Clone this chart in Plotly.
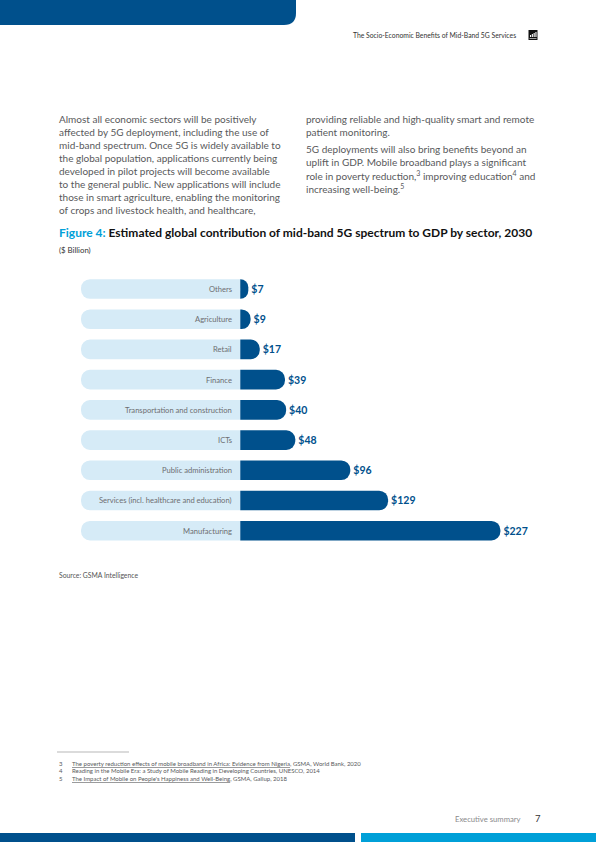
import plotly.graph_objs as go

W, H = 596, 842

# chart data
sectors = [
    "Others",
    "Agriculture",
    "Retail",
    "Finance",
    "Transportation and construction",
    "ICTs",
    "Public administration",
    "Services (incl. healthcare and education)",
    "Manufacturing",
]
values = [7, 9, 17, 39, 40, 48, 96, 129, 227]
value_labels = ["$" + str(v) for v in values]

# page text
header_text = "The Socio-Economic Benefits of Mid-Band 5G Services"
left_lines = [
    "Almost all economic sectors will be positively",
    "affected by 5G deployment, including the use of",
    "mid-band spectrum. Once 5G is widely available to",
    "the global population, applications currently being",
    "developed in pilot projects will become available",
    "to the general public. New applications will include",
    "those in smart agriculture, enabling the monitoring",
    "of crops and livestock health, and healthcare,",
]
right_lines = [
    "providing reliable and high-quality smart and remote",
    "patient monitoring.",
    "5G deployments will also bring benefits beyond an",
    "uplift in GDP. Mobile broadband plays a significant",
    "role in poverty reduction,<sup>3</sup> improving education<sup>4</sup> and",
    "increasing well-being.<sup>5</sup>",
]
footnotes = [
    ("3", "<u>The poverty reduction effects of mobile broadband in Africa: Evidence from Nigeria</u>, GSMA, World Bank, 2020"),
    ("4", "Reading in the Mobile Era: a Study of Mobile Reading in Developing Countries, UNESCO, 2014"),
    ("5", "<u>The Impact of Mobile on People's Happiness and Well-Being</u>, GSMA, Gallup, 2018"),
]

DARK = "#00508c"
TRACK_COL = "#d6ebf7"
CYAN = "#00a0d8"
BODY = "#58595b"
FONT = "Lato, sans-serif"
TRACK = 139


def px(x):
    return x / W


def py(y):
    return 1 - y / H


fig = go.Figure()

# background track bars
fig.add_trace(go.Bar(
    y=sectors,
    x=[-TRACK] * len(sectors),
    orientation="h",
    marker=dict(color=TRACK_COL, cornerradius=10, line=dict(width=0)),
    width=0.65,
    hoverinfo="skip",
    showlegend=False,
))

# value bars
fig.add_trace(go.Bar(
    y=sectors,
    x=values,
    orientation="h",
    marker=dict(color=DARK, cornerradius=10, line=dict(width=0)),
    width=0.65,
    text=value_labels,
    textposition="outside",
    constraintext="none",
    cliponaxis=False,
    textfont=dict(family=FONT, size=10.5, color=DARK, weight="bold"),
    showlegend=False,
))

annotations = []

# category labels inside the tracks
for s in sectors:
    annotations.append(dict(
        x=0, y=s, xref="x", yref="y", text=s, showarrow=False,
        xanchor="right", yanchor="middle", xshift=-6,
        font=dict(family=FONT, size=7.6, color="#6d6e71"),
    ))

# body text
left_y = [119 + i * 13.05 for i in range(len(left_lines))]
right_y = [119, 132, 149, 162.2, 175.4, 188.4]
for t, yy in zip(left_lines, left_y):
    annotations.append(dict(x=px(57), y=py(yy), xref="paper", yref="paper", text=t,
                            showarrow=False, xanchor="left", yanchor="middle",
                            font=dict(family=FONT, size=10, color=BODY)))
for t, yy in zip(right_lines, right_y):
    annotations.append(dict(x=px(303.5), y=py(yy), xref="paper", yref="paper", text=t,
                            showarrow=False, xanchor="left", yanchor="middle",
                            font=dict(family=FONT, size=10, color=BODY)))

# title and subtitle
annotations.append(dict(
    x=px(57), y=py(233), xref="paper", yref="paper", showarrow=False,
    xanchor="left", yanchor="middle",
    text="<span style='color:" + CYAN + "'>Figure 4:</span> Estimated global contribution of mid-band 5G spectrum to GDP by sector, 2030",
    font=dict(family=FONT, size=12, color="#111111", weight="bold"),
))
annotations.append(dict(x=px(57), y=py(250.5), xref="paper", yref="paper", text="($ Billion)",
                        showarrow=False, xanchor="left", yanchor="middle",
                        font=dict(family=FONT, size=7.8, color="#333333")))

# source
annotations.append(dict(x=px(57), y=py(575), xref="paper", yref="paper", text="Source: GSMA Intelligence",
                        showarrow=False, xanchor="left", yanchor="middle",
                        font=dict(family=FONT, size=6.8, color="#555555")))

# header and footer
annotations.append(dict(x=px(518), y=py(35), xref="paper", yref="paper", text=header_text,
                        showarrow=False, xanchor="right", yanchor="middle",
                        font=dict(family=FONT, size=6.8, color="#333333")))
annotations.append(dict(x=px(523), y=py(818.5), xref="paper", yref="paper", text="Executive summary",
                        showarrow=False, xanchor="right", yanchor="middle",
                        font=dict(family=FONT, size=7.7, color="#8a8a8c")))
annotations.append(dict(x=px(533), y=py(818), xref="paper", yref="paper", text="7",
                        showarrow=False, xanchor="left", yanchor="middle",
                        font=dict(family=FONT, size=9.5, color="#333333")))

# footnotes
for i, (num, txt) in enumerate(footnotes):
    yy = 763 + i * 7.8
    annotations.append(dict(x=px(57), y=py(yy), xref="paper", yref="paper", text=num,
                            showarrow=False, xanchor="left", yanchor="middle",
                            font=dict(family=FONT, size=6, color="#58595b")))
    annotations.append(dict(x=px(70), y=py(yy), xref="paper", yref="paper", text=txt,
                            showarrow=False, xanchor="left", yanchor="middle",
                            font=dict(family=FONT, size=6, color="#58595b")))

# decorative page shapes
shapes = [
    dict(type="path", xref="paper", yref="paper",
         path=(f"M 0,{py(0)} L {px(296)},{py(0)} L {px(296)},{py(13)} "
               f"Q {px(296)},{py(25)} {px(284)},{py(25)} L 0,{py(25)} Z"),
         fillcolor=DARK, line=dict(width=0)),
    dict(type="rect", xref="paper", yref="paper", x0=0, x1=px(355), y0=py(842), y1=py(833),
         fillcolor=DARK, line=dict(width=0)),
    dict(type="rect", xref="paper", yref="paper", x0=px(361), x1=1, y0=py(842), y1=py(833),
         fillcolor=CYAN, line=dict(width=0)),
    dict(type="line", xref="paper", yref="paper", x0=px(57), x1=px(129), y0=py(752), y1=py(752),
         line=dict(color="#888888", width=0.6)),
    # small logo block in header
    dict(type="rect", xref="paper", yref="paper", x0=px(528.5), x1=px(537.5), y0=py(40), y1=py(30),
         fillcolor="#111111", line=dict(width=0)),
]
for k, h in enumerate([2, 3, 4, 5]):
    x0 = 530 + k * 1.8
    shapes.append(dict(type="rect", xref="paper", yref="paper", x0=px(x0), x1=px(x0 + 1.1),
                       y0=py(37), y1=py(37 - h), fillcolor="white", line=dict(width=0)))
shapes.append(dict(type="rect", xref="paper", yref="paper", x0=px(529.5), x1=px(536.5),
                   y0=py(38.6), y1=py(38), fillcolor="white", line=dict(width=0)))

fig.update_layout(
    width=W,
    height=H,
    margin=dict(l=0, r=0, t=0, b=0),
    paper_bgcolor="white",
    plot_bgcolor="white",
    barmode="overlay",
    font=dict(family=FONT),
    xaxis=dict(range=[-TRACK, 279], domain=[px(81), px(560)], visible=False, fixedrange=True),
    yaxis=dict(autorange="reversed", domain=[1 - 545.8 / H, 1 - 273.9 / H], visible=False,
               fixedrange=True),
    annotations=annotations,
    shapes=shapes,
)

# page has a default body margin; drop it so the figure sits at the window origin
fig.write_html("out.html", config={"displayModeBar": False},
               post_script="document.body.style.margin='0px';")
